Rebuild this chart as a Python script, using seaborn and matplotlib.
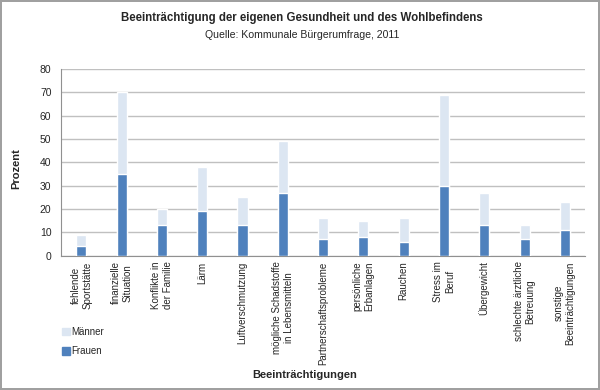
import matplotlib
matplotlib.use("Agg")
import matplotlib.pyplot as plt
import seaborn as sns
from matplotlib.patches import Patch

# Daten
kategorien = ["fehlende\nSportstätte", "finanzielle\nSituation", "Konflikte in\nder Familie",
              "Lärm", "Luftverschmutzung", "mögliche Schadstoffe\nin Lebensmitteln",
              "Partnerschaftsprobleme", "persönliche\nErbanlagen", "Rauchen",
              "Stress im\nBeruf", "Übergewicht", "schlechte ärztliche\nBetreuung",
              "sonstige\nBeeinträchtigungen"]
frauen = [4, 35, 13, 19, 13, 27, 7, 8, 6, 30, 13, 7, 11]
maenner = [5, 35, 7, 19, 12, 22, 9, 7, 10, 39, 14, 6, 12]
gesamt = [f + m for f, m in zip(frauen, maenner)]

farbe_frauen = "#4F81BD"
farbe_maenner = "#DCE6F2"

sns.set_style("white")
plt.rcParams["font.family"] = ["Liberation Sans Narrow", "Liberation Sans", "DejaVu Sans"]

fig = plt.figure(figsize=(6, 3.9), dpi=100)
fig.patch.set_edgecolor("#a0a0a0")
fig.patch.set_linewidth(1.5)
ax = fig.add_axes([0.102, 0.344, 0.873, 0.479])

# gestapelte Säulen: Gesamt (hell) hinten, Frauen (dunkel) vorne
sns.barplot(x=list(range(len(kategorien))), y=gesamt, color=farbe_maenner,
            width=0.25, saturation=1, ax=ax, zorder=2)
sns.barplot(x=list(range(len(kategorien))), y=frauen, color=farbe_frauen,
            width=0.25, saturation=1, ax=ax, zorder=3)

ax.set_ylim(0, 80)
ax.set_yticks(range(0, 81, 10))
ax.yaxis.grid(True, color="#c0c0c0", linewidth=1, zorder=0)
ax.set_axisbelow(True)
ax.set_xlim(-0.5, len(kategorien) - 0.5)
ax.set_xticks(range(len(kategorien)))
ax.set_xticklabels(kategorien, rotation=90, fontsize=7, va="top", ha="center",
                   multialignment="center")
ax.tick_params(axis="y", labelsize=7.5, length=3, color="#909090", pad=4)
ax.tick_params(axis="x", length=0, pad=4)
for s in ["top", "right"]:
    ax.spines[s].set_visible(False)
for s in ["left", "bottom"]:
    ax.spines[s].set_color("#909090")
ax.set_xlabel("")
ax.set_ylabel("")

fig.text(0.503, 0.955, "Beeinträchtigung der eigenen Gesundheit und des Wohlbefindens",
         ha="center", va="center", fontsize=8.3, fontweight="bold")
fig.text(0.503, 0.91, "Quelle: Kommunale Bürgerumfrage, 2011",
         ha="center", va="center", fontsize=7.6)
fig.text(0.027, 0.569, "Prozent", rotation=90, ha="center", va="center",
         fontsize=8, fontweight="bold")
fig.text(0.508, 0.038, "Beeinträchtigungen", ha="center", va="center",
         fontsize=8, fontweight="bold")

handles = [Patch(color=farbe_maenner, label="Männer"),
           Patch(color=farbe_frauen, label="Frauen")]
fig.legend(handles=handles, loc="upper left", bbox_to_anchor=(0.095, 0.175),
           frameon=False, fontsize=7, handlelength=0.8, handleheight=0.8,
           handletextpad=0.2, labelspacing=1.0, borderpad=0)

fig.savefig("out.png", dpi=100, edgecolor=fig.get_edgecolor())
